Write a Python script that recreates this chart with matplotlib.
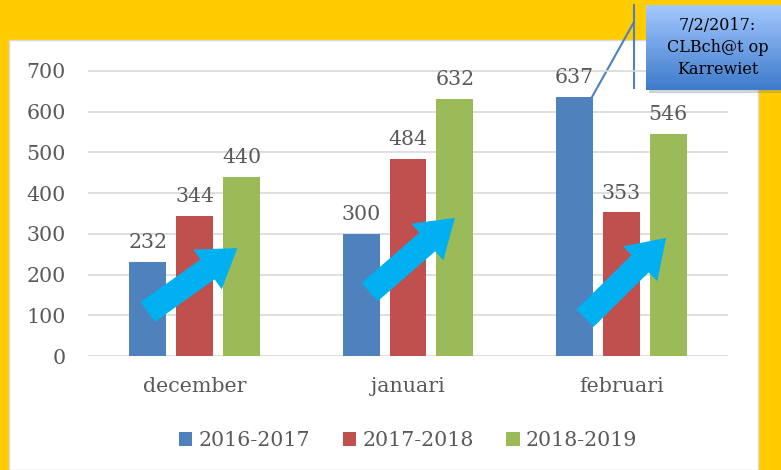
import matplotlib.pyplot as plt
import numpy as np
from matplotlib.patches import Rectangle
from matplotlib.colors import LinearSegmentedColormap

months = ['december', 'januari', 'februari']
seasons = ['2016-2017', '2017-2018', '2018-2019']
values_1617 = [232, 300, 637]
values_1718 = [344, 484, 353]
values_1819 = [440, 632, 546]
colors = ['#4F81BD', '#C0504D', '#9BBB59']
# trend arrows per month: (tail x offset, tail y, head x offset, head y)
trend_arrows = [(-0.22, 108, 0.20, 265), (-0.18, 157, 0.22, 339), (-0.17, 93, 0.21, 290)]

W, H = 781, 470
plt.rcParams['font.family'] = ['DejaVu Serif']
fig = plt.figure(figsize=(W / 100, H / 100), dpi=100)
fig.patch.set_facecolor('#FFCC00')

# white chart panel
bg = fig.add_axes([0, 0, 1, 1], zorder=-5)
bg.axis('off')
bg.set_xlim(0, W)
bg.set_ylim(0, H)
bg.add_patch(Rectangle((9, 0), 758 - 9, H - 40, facecolor='white', edgecolor='#D9D9D9', lw=1))

ax = fig.add_axes([88 / W, (H - 356) / H, (728 - 88) / W, (356 - 71) / H * 800 / 700], zorder=1)
ax.set_facecolor('none')

x = np.arange(len(months))
bw, step = 0.173, 0.22
gray = '#595959'
fs = 14.8
for i, (vals, c, lab) in enumerate(zip([values_1617, values_1718, values_1819], colors, seasons)):
    bars = ax.bar(x + (i - 1) * step, vals, width=bw, color=c, label=lab, zorder=2)
    for b, v in zip(bars, vals):
        ax.text(b.get_x() + b.get_width() / 2, v + 24, str(v), ha='center', va='bottom',
                fontsize=fs, color=gray, zorder=3)

for xi, (tx, ty, hx, hy) in zip(x, trend_arrows):
    ax.annotate('', xy=(xi + hx, hy), xytext=(xi + tx, ty),
                arrowprops=dict(arrowstyle='simple,head_length=1.2,head_width=1.6,tail_width=0.8',
                                mutation_scale=22, color='#00B0F0', lw=0, shrinkA=0, shrinkB=0),
                zorder=4)

ax.set_xlim(-0.5, 2.5)
ax.set_ylim(0, 800)
ax.set_yticks(range(0, 701, 100))
ax.set_xticks(x)
ax.set_xticklabels(months)
ax.tick_params(length=0, labelsize=fs, colors=gray)
ax.tick_params(axis='x', pad=15)
ax.tick_params(axis='y', pad=16)
ax.grid(axis='y', color='#D9D9D9', lw=1.2, zorder=0)
ax.set_axisbelow(True)
for s in ax.spines.values():
    s.set_visible(False)

leg = ax.legend(loc='center', bbox_to_anchor=(0.5, -0.26), ncol=3, frameon=False, fontsize=fs,
                handlelength=0.65, handleheight=0.65, handletextpad=0.3, columnspacing=1.6)
for t in leg.get_texts():
    t.set_color(gray)

# callout box with gradient and soft shadow
bg.add_patch(Rectangle((649, H - 93), 781 - 649, 86, facecolor='#808080', alpha=0.35, lw=0))
cax = fig.add_axes([646 / W, (H - 90) / H, (781 - 646) / W, 85 / H], zorder=5)
grad = np.linspace(0, 1, 100).reshape(-1, 1)
cmap = LinearSegmentedColormap.from_list('callout', ['#A4C8FF', '#3D7BCB'])
cax.imshow(grad, aspect='auto', cmap=cmap, extent=[0, 1, 0, 1])
cax.axis('off')
cax.text(0.53, 0.5, '7/2/2017:\nCLBch@t op\nKarrewiet', ha='center', va='center',
         fontsize=11.5, color='black', linespacing=1.35, transform=cax.transAxes)

# callout leader lines
bg.plot([634, 634], [H - 5, H - 88], color='#4F81BD', lw=1.5)
bg.plot([634, 592], [H - 22, H - 97], color='#4F81BD', lw=1.5)

fig.savefig('out.png', dpi=100, facecolor=fig.get_facecolor())
